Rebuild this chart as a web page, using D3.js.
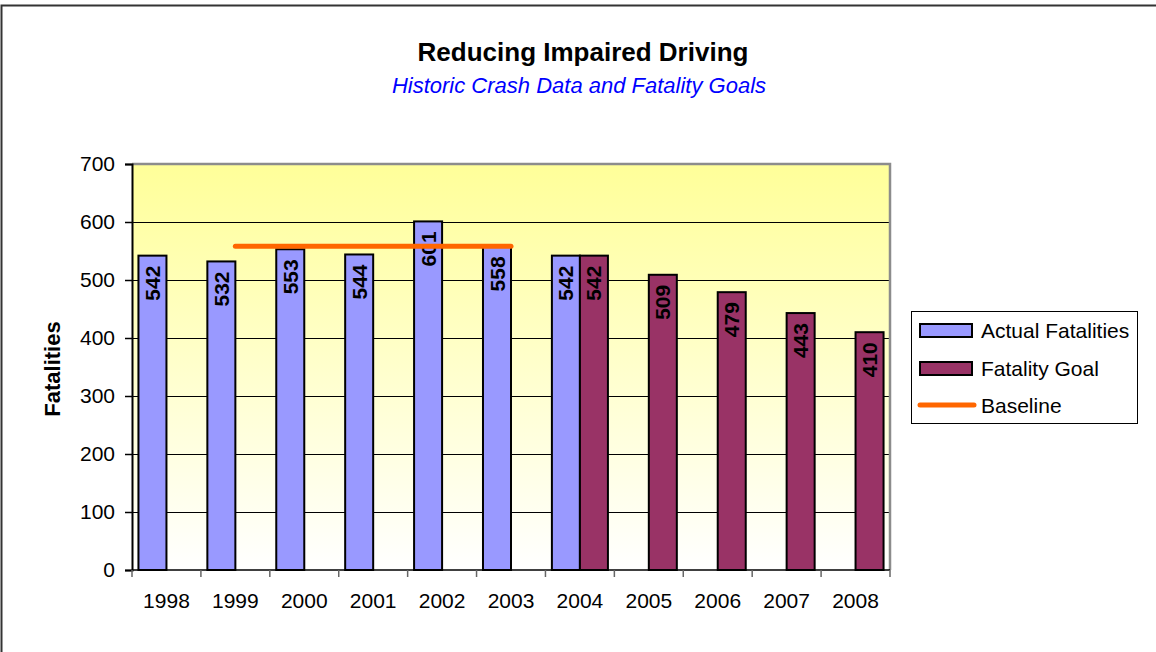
<!DOCTYPE html>
<html>
<head>
<meta charset="utf-8">
<script src="https://cdn.jsdelivr.net/npm/d3@7"></script>
<style>
  html, body { margin: 0; padding: 0; background: #fff; }
  svg { display: block; font-family: Arial, "Liberation Sans", sans-serif; }
</style>
</head>
<body>
<svg id="chart" width="1156" height="652"></svg>
<script>
// Chart data
const years = ["1998", "1999", "2000", "2001", "2002", "2003", "2004", "2005", "2006", "2007", "2008"];
const actualFatalities = [542, 532, 553, 544, 601, 558, 542, null, null, null, null];
const fatalityGoal = [null, null, null, null, null, null, 542, 509, 479, 443, 410];
const baseline = [null, 558, 558, 558, 558, 558, null, null, null, null, null];
const yTicks = [0, 100, 200, 300, 400, 500, 600, 700];
const seriesNames = ["Actual Fatalities", "Fatality Goal", "Baseline"];

const svg = d3.select("#chart");

// Outer chart frame
svg.append("rect")
  .attr("x", 1.5).attr("y", 5.5)
  .attr("width", 1170).attr("height", 670)
  .attr("fill", "none").attr("stroke", "#333").attr("stroke-width", 2);

const plot = { left: 132, right: 890, top: 164, bottom: 570 };

const x = d3.scaleBand().domain(years).range([plot.left, plot.right]).paddingInner(0).paddingOuter(0);
const x1 = d3.scaleBand().domain(["actual", "goal"]).range([0, x.bandwidth()]).paddingInner(0).paddingOuter(0.23);
const y = d3.scaleLinear().domain([0, 700]).range([plot.bottom, plot.top]);

// Plot background gradient
const defs = svg.append("defs");
const grad = defs.append("linearGradient").attr("id", "plotBg")
  .attr("x1", 0).attr("y1", 0).attr("x2", 0).attr("y2", 1);
grad.append("stop").attr("offset", "0%").attr("stop-color", "#FFFF99");
grad.append("stop").attr("offset", "100%").attr("stop-color", "#FFFFFF");

svg.append("rect")
  .attr("x", plot.left).attr("y", plot.top)
  .attr("width", plot.right - plot.left).attr("height", plot.bottom - plot.top)
  .attr("fill", "url(#plotBg)");

// Gridlines
svg.append("g").selectAll("line")
  .data(yTicks.filter(d => d > 0 && d < 700))
  .join("line")
  .attr("x1", plot.left).attr("x2", plot.right)
  .attr("y1", d => Math.round(y(d)) + 0.5).attr("y2", d => Math.round(y(d)) + 0.5)
  .attr("stroke", "#000").attr("stroke-width", 1);

// Plot border (top and right)
svg.append("path")
  .attr("d", `M${plot.left},${plot.top} H${plot.right} V${plot.bottom}`)
  .attr("fill", "none").attr("stroke", "#8c8c8c").attr("stroke-width", 2.5);

// Bars
const barGroup = svg.append("g");
function drawBars(values, key, color) {
  const data = years.map((yr, i) => ({ yr, v: values[i] })).filter(d => d.v != null);
  barGroup.selectAll(null)
    .data(data)
    .join("rect")
    .attr("x", d => x(d.yr) + x1(key))
    .attr("y", d => y(d.v))
    .attr("width", x1.bandwidth())
    .attr("height", d => y(0) - y(d.v))
    .attr("fill", color)
    .attr("stroke", "#000").attr("stroke-width", 2);
  barGroup.selectAll(null)
    .data(data)
    .join("text")
    .attr("transform", d => `translate(${x(d.yr) + x1(key) + x1.bandwidth() / 2},${y(d.v) + 10}) rotate(-90)`)
    .attr("text-anchor", "end")
    .attr("dy", "0.36em")
    .attr("font-size", 21).attr("font-weight", "bold")
    .attr("fill", "#000")
    .text(d => d.v);
}
drawBars(actualFatalities, "actual", "#9999FF");
drawBars(fatalityGoal, "goal", "#993366");

// Baseline
const line = d3.line()
  .defined(d => d.v != null)
  .x(d => x(d.yr) + x.bandwidth() / 2)
  .y(d => y(d.v));
svg.append("path")
  .datum(years.map((yr, i) => ({ yr, v: baseline[i] })))
  .attr("d", line)
  .attr("fill", "none").attr("stroke", "#FF6600")
  .attr("stroke-width", 5).attr("stroke-linecap", "round");

// Y axis
const yAxis = svg.append("g")
  .attr("transform", `translate(${plot.left},0)`)
  .call(d3.axisLeft(y).tickValues(yTicks).tickSize(7).tickPadding(10));
yAxis.select(".domain").attr("stroke", "#000").attr("stroke-width", 2);
yAxis.selectAll(".tick line").attr("stroke", "#000").attr("stroke-width", 1.5);
yAxis.selectAll(".tick text").attr("font-size", 21).attr("fill", "#000").attr("font-family", "Arial, 'Liberation Sans', sans-serif");

// X axis: ticks sit on the band boundaries
const xAxis = svg.append("g").attr("transform", `translate(0,${plot.bottom})`);
xAxis.append("line")
  .attr("x1", plot.left).attr("x2", plot.right)
  .attr("y1", 0).attr("y2", 0)
  .attr("stroke", "#000").attr("stroke-width", 1.5);
xAxis.selectAll(".xtick")
  .data(years.concat(["end"]))
  .join("line")
  .attr("class", "xtick")
  .attr("x1", (d, i) => i < years.length ? x(d) : plot.right)
  .attr("x2", (d, i) => i < years.length ? x(d) : plot.right)
  .attr("y1", 0).attr("y2", 7)
  .attr("stroke", "#666").attr("stroke-width", 1.5);
xAxis.selectAll(".xlabel")
  .data(years)
  .join("text")
  .attr("class", "xlabel")
  .attr("x", d => x(d) + x.bandwidth() / 2)
  .attr("y", 30)
  .attr("dy", "0.36em")
  .attr("text-anchor", "middle")
  .attr("font-size", 21).attr("fill", "#000")
  .text(d => d);

// Axis title
svg.append("text")
  .attr("transform", "translate(52,369) rotate(-90)")
  .attr("text-anchor", "middle").attr("dy", "0.36em")
  .attr("font-size", 22).attr("font-weight", "bold")
  .text("Fatalities");

// Titles
svg.append("text")
  .attr("x", 583).attr("y", 61)
  .attr("text-anchor", "middle")
  .attr("font-size", 26).attr("font-weight", "bold")
  .text("Reducing Impaired Driving");
svg.append("text")
  .attr("x", 579).attr("y", 93)
  .attr("text-anchor", "middle")
  .attr("font-size", 22).attr("font-style", "italic").attr("fill", "#0000FF")
  .text("Historic Crash Data and Fatality Goals");

// Legend
const legend = svg.append("g");
legend.append("rect")
  .attr("x", 911.5).attr("y", 311.5).attr("width", 226).attr("height", 112)
  .attr("fill", "#fff").attr("stroke", "#000").attr("stroke-width", 1);
const rowY = [330, 368, 405];
const swatchFill = ["#9999FF", "#993366"];
seriesNames.forEach((name, i) => {
  if (i < 2) {
    legend.append("rect")
      .attr("x", 920).attr("y", rowY[i] - 6).attr("width", 52).attr("height", 13)
      .attr("fill", swatchFill[i]).attr("stroke", "#000").attr("stroke-width", 2);
  } else {
    legend.append("line")
      .attr("x1", 920).attr("x2", 974).attr("y1", rowY[i]).attr("y2", rowY[i])
      .attr("stroke", "#FF6600").attr("stroke-width", 5).attr("stroke-linecap", "round");
  }
  legend.append("text")
    .attr("x", 981).attr("y", rowY[i]).attr("dy", "0.36em")
    .attr("font-size", 21).attr("fill", "#000")
    .text(name);
});
</script>
</body>
</html>
